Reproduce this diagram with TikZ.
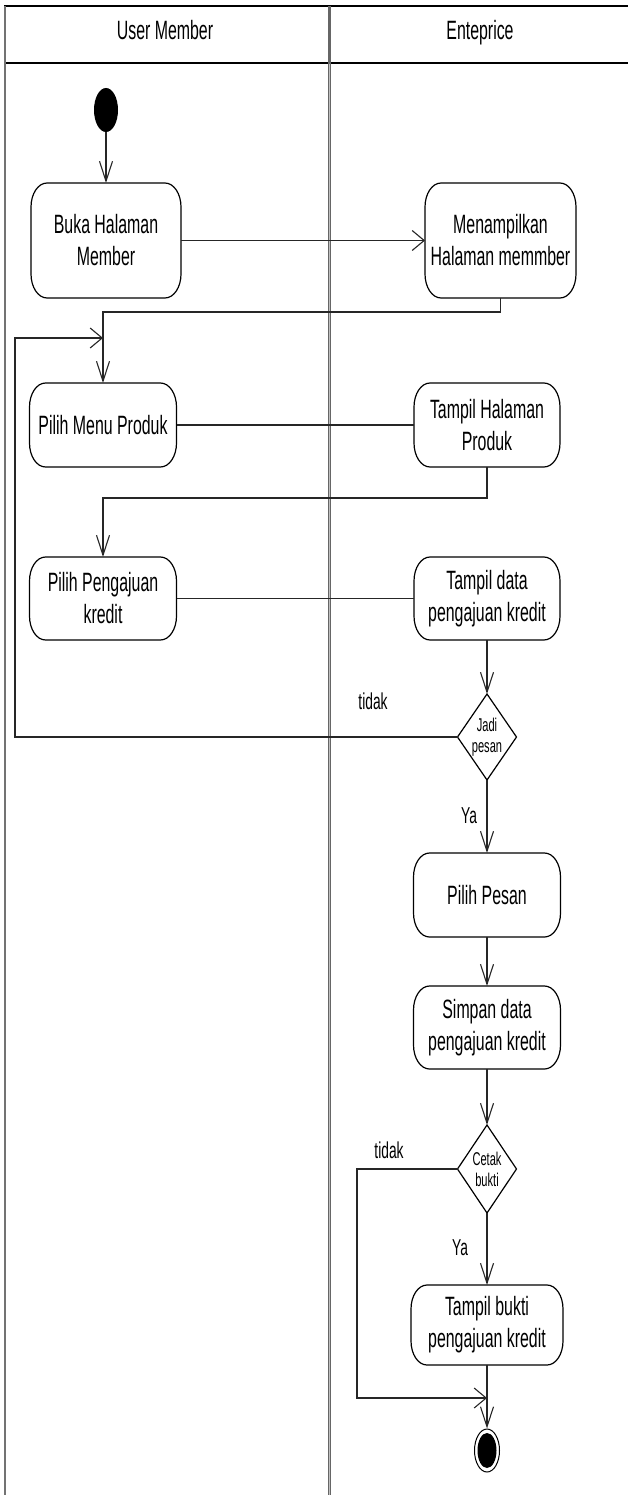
\documentclass[tikz,border=0pt]{standalone}
\usepackage{fontspec}
\newfontfamily\diagfont{Liberation Sans}[FakeStretch=0.6]
\usetikzlibrary{arrows.meta,calc,shapes.geometric}

% corner radii of the activity boxes
\newcommand\boxrx{16pt}
\newcommand\boxry{24pt}

% activity box: name, x, y, width, height, text
\newcommand\actbox[6]{%
  \node[actbody, minimum width=#4pt, minimum height=#5pt] (#1) at (#2,#3) {#6};
  \draw[boxline] ($(#1.north west)+(\boxrx,0)$) -- ($(#1.north east)+(-\boxrx,0)$)
    arc[start angle=90,end angle=0,x radius=\boxrx,y radius=\boxry]
    -- ($(#1.south east)+(0,\boxry)$)
    arc[start angle=0,end angle=-90,x radius=\boxrx,y radius=\boxry]
    -- ($(#1.south west)+(\boxrx,0)$)
    arc[start angle=270,end angle=180,x radius=\boxrx,y radius=\boxry]
    -- ($(#1.north west)+(0,-\boxry)$)
    arc[start angle=180,end angle=90,x radius=\boxrx,y radius=\boxry]
    -- cycle;}

% decision diamond: name, x, y, height, text
\newcommand\decision[5]{%
  \node[decbody, minimum height=#4pt] (#1) at (#2,#3) {#5};
  \draw[boxline] (#1.north) -- (#1.east) -- (#1.south) -- (#1.west) -- cycle;}

\begin{document}
\begin{tikzpicture}[x=1pt,y=1pt,
  actbody/.style={inner sep=0pt, outer sep=0pt, align=center,
    font=\diagfont\fontsize{26.5}{32}\selectfont},
  decbody/.style={inner sep=0pt, outer sep=0pt, align=center, minimum width=59pt,
    font=\diagfont\fontsize{18.5}{21}\selectfont},
  boxline/.style={draw=black, line width=1.2pt},
  flow/.style={draw=black!85, line width=1.1pt},
  varrow/.style={-{Straight Barb[length=20pt,width=13pt]}},
  harrow/.style={-{Straight Barb[length=12pt,width=20pt]}},
  lanetitle/.style={inner sep=0pt, anchor=base, font=\diagfont\fontsize{26.5}{30}\selectfont},
  guard/.style={inner sep=0pt, font=\diagfont\fontsize{23}{25}\selectfont},
  frameline/.style={draw=black, line width=1.8pt},
  laneline/.style={draw=black!55, line width=2.4pt}
]
\useasboundingbox (0,0) rectangle (628,-1495);

% swimlane frame
\draw[frameline] (4,-6) -- (628,-6);
\draw[frameline] (4,-63) -- (628,-63);
\draw[laneline] (5,-6) -- (5,-1495);
\draw[draw=black!60, line width=3.4pt] (329.3,-6) -- (329.3,-1495);
\draw[draw=black!25, line width=0.8pt] (329.3,-64) -- (329.3,-1495);

\node[lanetitle] (laneA) at (165,-40) {User Member};
\node[lanetitle] (laneB) at (480,-40) {Enteprice};

% start node
\node[ellipse, fill=black, inner sep=0pt, minimum width=24pt, minimum height=44pt] (start) at (106,-110) {};

% activities
\actbox{buka}{106}{-240.5}{150}{115}{Buka Halaman\\Member}
\actbox{menam}{500.5}{-240.5}{151}{115}{Menampilkan\\Halaman memmber}
\actbox{pmenu}{103}{-425}{147}{84}{Pilih Menu Produk}
\actbox{thp}{487}{-425}{146}{84}{Tampil Halaman\\Produk}
\actbox{ppeng}{103}{-598.5}{147}{83}{Pilih Pengajuan\\kredit}
\actbox{tdata}{487}{-598.5}{146}{83}{Tampil data\\pengajuan kredit}
\decision{jadi}{487}{-737}{86}{Jadi\\pesan}
\actbox{ppesan}{487}{-895}{147}{84}{Pilih Pesan}
\actbox{simpan}{487}{-1027.5}{147}{83}{Simpan data\\pengajuan kredit}
\decision{cetak}{487}{-1169}{88}{Cetak\\bukti}
\actbox{tbukti}{487}{-1325}{152}{80}{Tampil bukti\\pengajuan kredit}

% final node
\node[ellipse, draw=black, line width=1pt, inner sep=0pt, minimum width=25pt, minimum height=43pt] (final) at (487,-1450.5) {};
\fill[black] (final.center) ellipse [x radius=9.5pt, y radius=17.5pt];

% bend points
\coordinate (bendA) at (103,-312);
\coordinate (loopA) at (15,-338);
\coordinate (bendB) at (103,-498);
\coordinate (loopB) at (357,-1398);
\coordinate (merge) at (487,-1398);

% connectors
\draw[flow,varrow] (start.south) -- (buka.north);
\draw[flow,harrow] (buka.east) -- (menam.west);
\draw[flow,varrow] (menam.south) |- (bendA) -- (pmenu.north);
\draw[flow] (pmenu.east) -- (thp.west);
\draw[flow,varrow] (thp.south) |- (bendB) -- (ppeng.north);
\draw[flow] (ppeng.east) -- (tdata.west);
\draw[flow,varrow] (tdata.south) -- (jadi.north);
\draw[flow,harrow] (jadi.west) -| (loopA) -- (loopA -| pmenu.north);
\draw[flow,varrow] (jadi.south) -- (ppesan.north);
\draw[flow,varrow] (ppesan.south) -- (simpan.north);
\draw[flow,varrow] (simpan.south) -- (cetak.north);
\draw[flow,varrow] (cetak.south) -- (tbukti.north);
\draw[flow,harrow] (cetak.west) -| (loopB) -- (merge);
\draw[flow,varrow] (tbukti.south) -- (final.north);

% guard labels
\node[guard] (g1) at (373,-701) {tidak};
\node[guard] (g2) at (469,-816) {Ya};
\node[guard] (g3) at (389,-1150) {tidak};
\node[guard] (g4) at (460,-1248) {Ya};
\end{tikzpicture}
\end{document}
